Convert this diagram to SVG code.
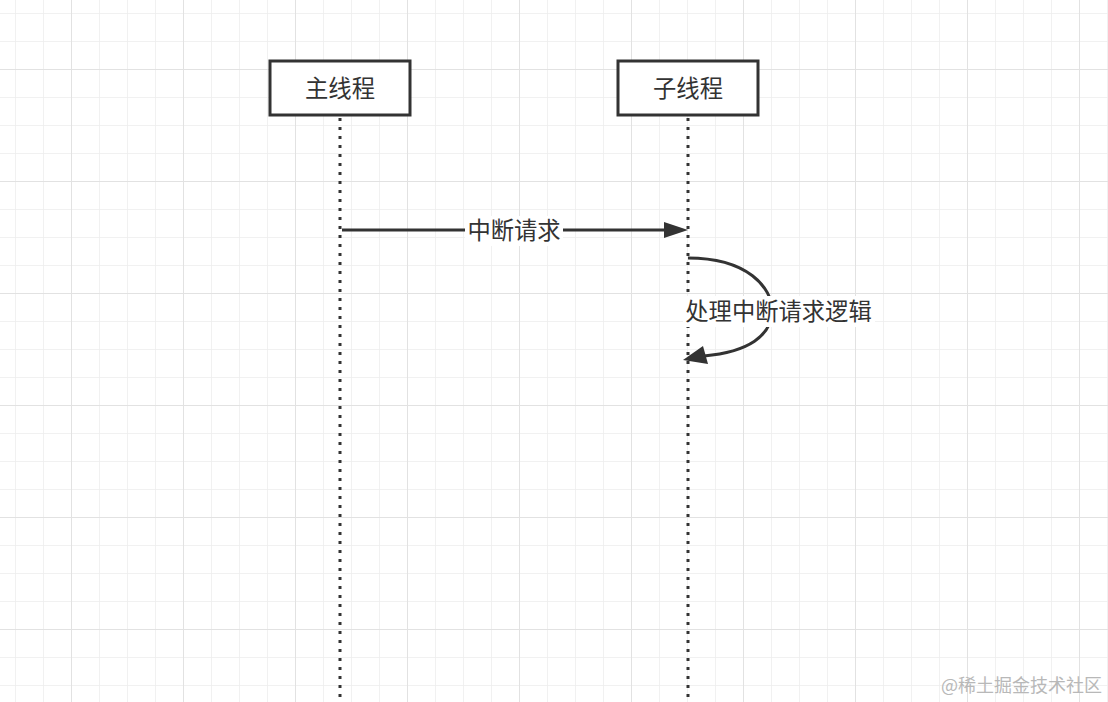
<svg xmlns="http://www.w3.org/2000/svg" width="1108" height="702" viewBox="0 0 1108 702">
<defs>
<style>
.minor{stroke:#ededed;stroke-width:1.5}
.major{stroke:#e2e2e2;stroke-width:2}
.box{fill:#fff;stroke:#333;stroke-width:3}
.t{font-family:"Noto Sans CJK SC",sans-serif;font-size:23.3px;fill:#333;text-anchor:middle;dominant-baseline:central}
.life{stroke:#333;stroke-width:3;stroke-dasharray:3 6;fill:none}
.conn{stroke:#333;stroke-width:3;fill:none}
.wm{font-family:"Noto Sans CJK SC",sans-serif;font-size:18px;fill:#b8b8b8}
</style>
<pattern id="gminor" x="15" y="13" width="28" height="28" patternUnits="userSpaceOnUse">
<path d="M0,0V28M0,0H28" class="minor"/>
</pattern>
<pattern id="gmajor" x="71" y="69" width="112" height="112" patternUnits="userSpaceOnUse">
<path d="M0,0V112M0,0H112" class="major"/>
</pattern>
</defs>
<rect width="1108" height="702" fill="#fff"/>
<rect width="1108" height="702" fill="url(#gminor)"/>
<rect width="1108" height="702" fill="url(#gmajor)"/>
<g id="connectors">
<line class="life" x1="340" y1="118" x2="340" y2="702"/>
<line class="life" x1="688" y1="118" x2="688" y2="702"/>
<line class="conn" x1="342" y1="230" x2="666" y2="230"/>
<path d="M664,222L688,230L664,238Z" fill="#333"/>
<rect x="465" y="216" width="98" height="30" fill="#fff"/>
<text class="t" x="514" y="229">中断请求</text>
<path class="conn" d="M688,258C748,258 772,288 772,310C772,336 748,352 704,356"/>
<path d="M683,360L703,346L708,364Z" fill="#333"/>
<rect x="683" y="296" width="192" height="31" fill="#fff"/>
<text class="t" x="778.5" y="310">处理中断请求逻辑</text>
</g>
<g id="main">
<rect class="box" x="270" y="61" width="140" height="54"/>
<text class="t" x="340" y="86.5">主线程</text>
</g>
<g id="sub">
<rect class="box" x="618" y="61" width="140" height="54"/>
<text class="t" x="688" y="86.5">子线程</text>
</g>
<text class="wm" x="941" y="692">@稀土掘金技术社区</text>
</svg>
